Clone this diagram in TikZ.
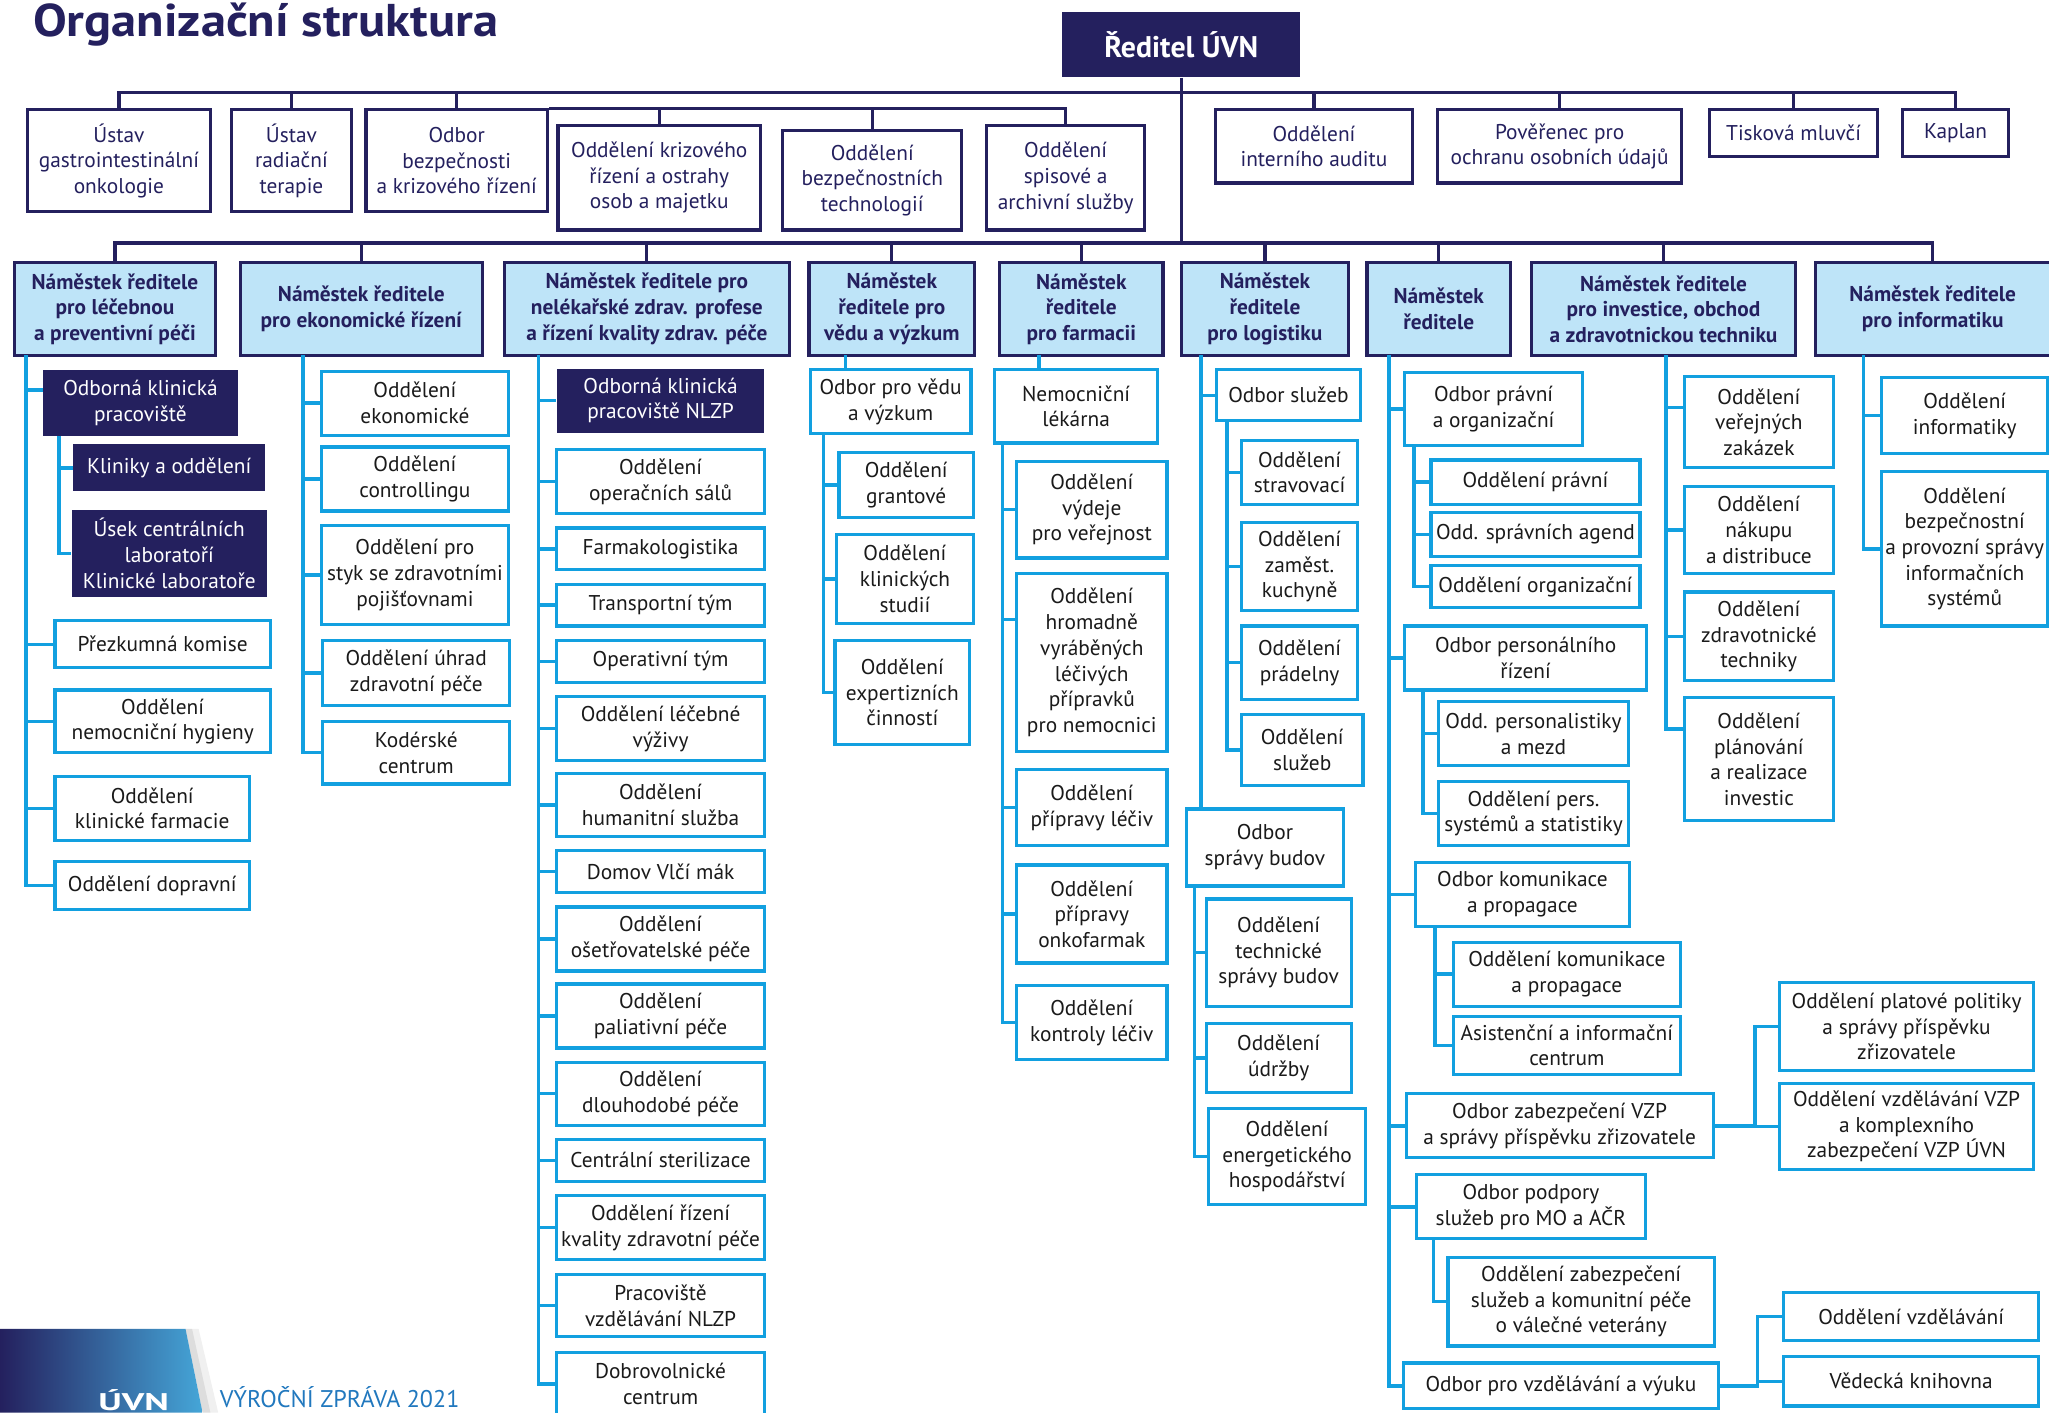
\documentclass[tikz,border=0pt]{standalone}
\usepackage{fontspec}
\setmainfont{PT Sans}
\usepackage{graphicx}
\definecolor{orgnavy}{HTML}{24205E}
\definecolor{orgsky}{HTML}{12A0E0}
\definecolor{orgpale}{HTML}{BEE4F8}
\definecolor{orgink}{HTML}{1A1A1A}
\definecolor{footblue}{HTML}{2178BE}
\definecolor{bandmid}{HTML}{1764AC}
\definecolor{bandlight}{HTML}{45A6D8}
\newcommand{\boxfont}{\fontsize{9.3}{11.2}\selectfont}

\begin{document}
\begin{tikzpicture}[x=0.02cm,y=-0.02cm]
\tikzstyle{every node}=[inner sep=1pt, align=center, font=\boxfont]
\tikzstyle{dirbox}=[fill=orgnavy, text=white, font=\bfseries\fontsize{13}{15}\selectfont]
\tikzstyle{topbox}=[draw=orgnavy, fill=white, line width=1.4pt, text=orgnavy]
\tikzstyle{depbox}=[draw=orgnavy, fill=orgpale, line width=1.4pt, text=orgnavy, font=\bfseries\boxfont]
\tikzstyle{ubox}=[draw=orgsky, fill=white, line width=1.4pt, text=orgink]
\tikzstyle{darkbox}=[fill=orgnavy, text=white]
\tikzstyle{nline}=[draw=orgnavy, line width=1.4pt]
\tikzstyle{cline}=[draw=orgsky, line width=1.5pt]
\clip (0,0) rectangle (1568,1081);
\fill[white] (0,0) rectangle (1568,1081);

% title and director
\draw (25,28) node (title) [anchor=base west, inner sep=0pt, text=orgnavy, font=\bfseries\fontsize{20}{22}\selectfont] {\scalebox{1.1}[1]{Organizační struktura}};
\draw (904,34) node (dir) [dirbox, minimum width=3.64cm, minimum height=1cm] {Ředitel ÚVN};

% first row
\draw (91,123) node (r1) [topbox, minimum width=2.8cm, minimum height=1.56cm] {Ústav\\gastrointestinální\\onkologie};
\draw (223,123) node (r2) [topbox, minimum width=1.84cm, minimum height=1.56cm] {Ústav\\radiační\\terapie};
\draw (349.5,123) node (r3) [topbox, minimum width=2.78cm, minimum height=1.56cm] {Odbor\\bezpečnosti\\a krizového řízení};
\draw (504.5,136) node (r4) [topbox, minimum width=3.1cm, minimum height=1.6cm] {Oddělení krizového\\řízení a ostrahy\\osob a majetku};
\draw (667.5,138) node (r5) [topbox, minimum width=2.74cm, minimum height=1.52cm] {Oddělení\\bezpečnostních\\technologií};
\draw (815.5,136) node (r6) [topbox, minimum width=2.42cm, minimum height=1.6cm] {Oddělení\\spisové a\\archivní služby};
\draw (1005.5,112) node (r7) [topbox, minimum width=3.02cm, minimum height=1.12cm] {Oddělení\\interního auditu};
\draw (1193.5,112) node (r8) [topbox, minimum width=3.74cm, minimum height=1.12cm] {Pověřenec pro\\ochranu osobních údajů};
\draw (1372.5,102) node (r9) [topbox, minimum width=2.58cm, minimum height=0.72cm] {Tisková mluvčí};
\draw (1496.5,102) node (r10) [topbox, minimum width=1.62cm, minimum height=0.72cm] {Kaplan};

% deputies
\draw (88,236.5) node (d1) [depbox, minimum width=3.08cm, minimum height=1.42cm] {Náměstek ředitele\\pro léčebnou\\a preventivní péči};
\draw (276.5,236.5) node (d2) [depbox, minimum width=3.7cm, minimum height=1.42cm] {Náměstek ředitele\\pro ekonomické řízení};
\draw (495,236.5) node (d3) [depbox, minimum width=4.36cm, minimum height=1.42cm] {Náměstek ředitele pro\\nelékařské zdrav. profese\\a řízení kvality zdrav. péče};
\draw (682.5,236.5) node (d4) [depbox, minimum width=2.54cm, minimum height=1.42cm] {Náměstek\\ředitele pro\\vědu a výzkum};
\draw (827.5,236.5) node (d5) [depbox, minimum width=2.5cm, minimum height=1.42cm] {Náměstek\\ředitele\\pro farmacii};
\draw (968,236.5) node (d6) [depbox, minimum width=2.56cm, minimum height=1.42cm] {Náměstek\\ředitele\\pro logistiku};
\draw (1101,236.5) node (d7) [depbox, minimum width=2.2cm, minimum height=1.42cm] {Náměstek\\ředitele};
\draw (1273,236.5) node (d8) [depbox, minimum width=4.04cm, minimum height=1.42cm] {Náměstek ředitele\\pro investice, obchod\\a zdravotnickou techniku};
\draw (1479,236.5) node (d9) [depbox, minimum width=3.6cm, minimum height=1.42cm] {Náměstek ředitele\\pro informatiku};

% column 1
\draw (107.5,308.5) node (c1a) [darkbox, minimum width=2.98cm, minimum height=1.02cm] {Odborná klinická\\pracoviště};
\draw (129.5,358) node (c1b) [darkbox, minimum width=2.94cm, minimum height=0.72cm] {Kliniky a oddělení};
\draw (129.5,423.5) node (c1c) [darkbox, minimum width=2.98cm, minimum height=1.34cm] {Úsek centrálních\\laboratoří\\Klinické laboratoře};
\draw (124.5,493) node (c1d) [ubox, minimum width=3.3cm, minimum height=0.72cm] {Přezkumná komise};
\draw (124.5,552) node (c1e) [ubox, minimum width=3.3cm, minimum height=0.96cm] {Oddělení\\nemocniční hygieny};
\draw (116.5,618.5) node (c1f) [ubox, minimum width=2.98cm, minimum height=0.98cm] {Oddělení\\klinické farmacie};
\draw (116.5,677.5) node (c1g) [ubox, minimum width=2.98cm, minimum height=0.74cm] {Oddělení dopravní};

% column 2
\draw (317.5,308.5) node (c2a) [ubox, minimum width=2.86cm, minimum height=0.98cm] {Oddělení\\ekonomické};
\draw (317.5,366.5) node (c2b) [ubox, minimum width=2.86cm, minimum height=0.98cm] {Oddělení\\controllingu};
\draw (317.5,440) node (c2c) [ubox, minimum width=2.86cm, minimum height=1.52cm] {Oddělení pro\\styk se zdravotními\\pojišťovnami};
\draw (318.5,515) node (c2d) [ubox, minimum width=2.86cm, minimum height=1cm] {Oddělení úhrad\\zdravotní péče};
\draw (318.5,576) node (c2e) [ubox, minimum width=2.86cm, minimum height=0.96cm] {Kodérské\\centrum};

% column 3
\draw (505.5,306.5) node (c3a) [darkbox, minimum width=3.18cm, minimum height=0.98cm] {Odborná klinická\\pracoviště NLZP};
\draw (505.5,368.5) node (c3b) [ubox, minimum width=3.18cm, minimum height=0.98cm] {Oddělení\\operačních sálů};
\draw (505.5,420) node (c3c) [ubox, minimum width=3.18cm, minimum height=0.64cm] {Farmakologistika};
\draw (505.5,463) node (c3d) [ubox, minimum width=3.18cm, minimum height=0.64cm] {Transportní tým};
\draw (505.5,506) node (c3e) [ubox, minimum width=3.18cm, minimum height=0.64cm] {Operativní tým};
\draw (505.5,557.5) node (c3f) [ubox, minimum width=3.18cm, minimum height=0.98cm] {Oddělení léčebné\\výživy};
\draw (505.5,616) node (c3g) [ubox, minimum width=3.18cm, minimum height=0.96cm] {Oddělení\\humanitní služba};
\draw (505.5,667) node (c3h) [ubox, minimum width=3.18cm, minimum height=0.64cm] {Domov Vlčí mák};
\draw (505.5,718.5) node (c3i) [ubox, minimum width=3.18cm, minimum height=0.98cm] {Oddělení\\ošetřovatelské péče};
\draw (505.5,777.5) node (c3j) [ubox, minimum width=3.18cm, minimum height=0.98cm] {Oddělení\\paliativní péče};
\draw (505.5,837) node (c3k) [ubox, minimum width=3.18cm, minimum height=0.96cm] {Oddělení\\dlouhodobé péče};
\draw (505.5,888) node (c3l) [ubox, minimum width=3.18cm, minimum height=0.64cm] {Centrální sterilizace};
\draw (505.5,939.5) node (c3m) [ubox, minimum width=3.18cm, minimum height=0.98cm] {Oddělení řízení\\kvality zdravotní péče};
\draw (505.5,999) node (c3n) [ubox, minimum width=3.18cm, minimum height=0.96cm] {Pracoviště\\vzdělávání NLZP};
\draw (505.5,1059) node (c3o) [ubox, minimum width=3.18cm, minimum height=0.96cm] {Dobrovolnické\\centrum};

% column 4
\draw (681.5,307.5) node (c4a) [ubox, minimum width=2.46cm, minimum height=0.98cm] {Odbor pro vědu\\a výzkum};
\draw (693.5,371) node (c4b) [ubox, minimum width=2.06cm, minimum height=1cm] {Oddělení\\grantové};
\draw (692.5,443) node (c4c) [ubox, minimum width=2.1cm, minimum height=1.36cm] {Oddělení\\klinických\\studií};
\draw (690.5,530) node (c4d) [ubox, minimum width=2.06cm, minimum height=1.6cm] {Oddělení\\expertizních\\činností};

% column 5
\draw (823.5,311) node (c5a) [ubox, minimum width=2.5cm, minimum height=1.12cm] {Nemocniční\\lékárna};
\draw (835.5,390) node (c5b) [ubox, minimum width=2.3cm, minimum height=1.48cm] {Oddělení\\výdeje\\pro veřejnost};
\draw (835.5,507) node (c5c) [ubox, minimum width=2.3cm, minimum height=2.72cm] {Oddělení\\hromadně\\vyráběných\\léčivých\\přípravků\\pro nemocnici};
\draw (835.5,618) node (c5d) [ubox, minimum width=2.3cm, minimum height=1.16cm] {Oddělení\\přípravy léčiv};
\draw (835.5,699.5) node (c5e) [ubox, minimum width=2.3cm, minimum height=1.5cm] {Oddělení\\přípravy\\onkofarmak};
\draw (835.5,782.5) node (c5f) [ubox, minimum width=2.3cm, minimum height=1.14cm] {Oddělení\\kontroly léčiv};

% column 6
\draw (986,302.5) node (c6a) [ubox, minimum width=2.2cm, minimum height=0.78cm] {Odbor služeb};
\draw (994.5,361.5) node (c6b) [ubox, minimum width=1.78cm, minimum height=0.98cm] {Oddělení\\stravovací};
\draw (994.5,433.5) node (c6c) [ubox, minimum width=1.78cm, minimum height=1.34cm] {Oddělení\\zaměst.\\kuchyně};
\draw (994.5,507) node (c6d) [ubox, minimum width=1.78cm, minimum height=1.12cm] {Oddělení\\prádelny};
\draw (996.5,574) node (c6e) [ubox, minimum width=1.86cm, minimum height=1.08cm] {Oddělení\\služeb};
\draw (968,648.5) node (c6f) [ubox, minimum width=2.4cm, minimum height=1.18cm] {Odbor\\správy budov};
\draw (978.5,729) node (c6g) [ubox, minimum width=2.22cm, minimum height=1.64cm] {Oddělení\\technické\\správy budov};
\draw (978.5,809.5) node (c6h) [ubox, minimum width=2.22cm, minimum height=1.06cm] {Oddělení\\údržby};
\draw (985,885) node (c6i) [ubox, minimum width=2.4cm, minimum height=1.48cm] {Oddělení\\energetického\\hospodářství};

% column 7
\draw (1143,313) node (c7a) [ubox, minimum width=2.72cm, minimum height=1.12cm] {Odbor právní\\a organizační};
\draw (1175,369) node (c7b) [ubox, minimum width=3.2cm, minimum height=0.68cm] {Oddělení právní};
\draw (1175,409) node (c7c) [ubox, minimum width=3.2cm, minimum height=0.68cm] {Odd. správních agend};
\draw (1175,449) node (c7d) [ubox, minimum width=3.2cm, minimum height=0.64cm] {Oddělení organizační};
\draw (1167.5,503.5) node (c7e) [ubox, minimum width=3.7cm, minimum height=0.98cm] {Odbor personálního\\řízení};
\draw (1173.5,561.5) node (c7f) [ubox, minimum width=2.9cm, minimum height=0.98cm] {Odd. personalistiky\\a mezd};
\draw (1173.5,622.5) node (c7g) [ubox, minimum width=2.9cm, minimum height=0.98cm] {Oddělení pers.\\systémů a statistiky};
\draw (1165,684.5) node (c7h) [ubox, minimum width=3.28cm, minimum height=0.98cm] {Odbor komunikace\\a propagace};
\draw (1199,745.5) node (c7i) [ubox, minimum width=3.48cm, minimum height=0.98cm] {Oddělení komunikace\\a propagace};
\draw (1199,800) node (c7j) [ubox, minimum width=3.48cm, minimum height=0.88cm] {Asistenční a informační\\centrum};
\draw (1193.5,861.5) node (c7k) [ubox, minimum width=4.7cm, minimum height=0.98cm] {Odbor zabezpečení VZP\\a správy příspěvku zřizovatele};
\draw (1459,785.5) node (c7l) [ubox, minimum width=3.88cm, minimum height=1.34cm] {Oddělení platové politiky\\a správy příspěvku\\zřizovatele};
\draw (1459,862) node (c7m) [ubox, minimum width=3.88cm, minimum height=1.32cm] {Oddělení vzdělávání VZP\\a komplexního\\zabezpečení VZP ÚVN};
\draw (1171.5,923.5) node (c7n) [ubox, minimum width=3.5cm, minimum height=0.98cm] {Odbor podpory\\služeb pro MO a AČR};
\draw (1210,996) node (c7o) [ubox, minimum width=4.08cm, minimum height=1.36cm] {Oddělení zabezpečení\\služeb a komunitní péče\\o válečné veterány};
\draw (1194.5,1060.5) node (c7p) [ubox, minimum width=4.82cm, minimum height=0.7cm] {Odbor pro vzdělávání a výuku};
\draw (1462.5,1007.5) node (c7q) [ubox, minimum width=3.9cm, minimum height=0.74cm] {Oddělení vzdělávání};
\draw (1462.5,1057) node (c7r) [ubox, minimum width=3.9cm, minimum height=0.76cm] {Vědecká knihovna};

% column 8
\draw (1346,323) node (c8a) [ubox, minimum width=2.28cm, minimum height=1.4cm] {Oddělení\\veřejných\\zakázek};
\draw (1346,405.5) node (c8b) [ubox, minimum width=2.28cm, minimum height=1.34cm] {Oddělení\\nákupu\\a distribuce};
\draw (1346,487) node (c8c) [ubox, minimum width=2.28cm, minimum height=1.36cm] {Oddělení\\zdravotnické\\techniky};
\draw (1346,581) node (c8d) [ubox, minimum width=2.28cm, minimum height=1.88cm] {Oddělení\\plánování\\a realizace\\investic};

% column 9
\draw (1503.5,318) node (c9a) [ubox, minimum width=2.54cm, minimum height=1.16cm] {Oddělení\\informatiky};
\draw (1503.5,420) node (c9b) [ubox, minimum width=2.54cm, minimum height=2.36cm] {Oddělení\\bezpečnostní\\a provozní správy\\informačních\\systémů};

% navy connectors
\coordinate (top) at (904,71);
\coordinate (mid) at (904,186);
\draw[nline] (dir.south) -- (mid);
\draw[nline] (top) -| (r1.north);
\draw[nline] (top) -| (r2.north);
\draw[nline] (top) -| (r3.north);
\draw[nline] (top) -| (r7.north);
\draw[nline] (top) -| (r8.north);
\draw[nline] (top) -| (r9.north);
\draw[nline] (top) -| (r10.north);
\draw[nline] (r3.north east) -| (r4.north);
\draw[nline] (r3.north east) -| (r5.north);
\draw[nline] (r3.north east) -| (r6.north);
\draw[nline] (mid) -| (d1.north);
\draw[nline] (mid) -| (d2.north);
\draw[nline] (mid) -| (d3.north);
\draw[nline] (mid) -| (d4.north);
\draw[nline] (mid) -| (d5.north);
\draw[nline] (mid) -| (d6.north);
\draw[nline] (mid) -| (d7.north);
\draw[nline] (mid) -| (d8.north);
\draw[nline] (mid) -| (d9.north);

% column connectors
\coordinate (b1) at (20,272);
\coordinate (s1) at (45,334);
\draw[cline] (b1) |- ([yshift=0.2cm]c1a.west);
\draw[cline] (s1) |- (c1b.west);
\draw[cline] (s1) |- (c1c.west);
\draw[cline] (b1) |- (c1d.west);
\draw[cline] (b1) |- (c1e.west);
\draw[cline] (b1) |- (c1f.west);
\draw[cline] (b1) |- (c1g.west);

\coordinate (b2) at (232,272);
\draw[cline] (b2) |- (c2a.west);
\draw[cline] (b2) |- (c2b.west);
\draw[cline] (b2) |- (c2c.west);
\draw[cline] (b2) |- (c2d.west);
\draw[cline] (b2) |- (c2e.west);

\coordinate (b3) at (412,272);
\draw[cline] (b3) |- (c3a.west);
\draw[cline] (b3) |- (c3b.west);
\draw[cline] (b3) |- (c3c.west);
\draw[cline] (b3) |- (c3d.west);
\draw[cline] (b3) |- (c3e.west);
\draw[cline] (b3) |- (c3f.west);
\draw[cline] (b3) |- (c3g.west);
\draw[cline] (b3) |- (c3h.west);
\draw[cline] (b3) |- (c3i.west);
\draw[cline] (b3) |- (c3j.west);
\draw[cline] (b3) |- (c3k.west);
\draw[cline] (b3) |- (c3l.west);
\draw[cline] (b3) |- (c3m.west);
\draw[cline] (b3) |- (c3n.west);
\draw[cline] (b3) |- (c3o.west);

\coordinate (b4) at (647,272);
\coordinate (s4) at (630,332);
\draw[cline] (b4) -- (b4 |- c4a.north);
\draw[cline] (s4) |- (c4b.west);
\draw[cline] (s4) |- (c4c.west);
\draw[cline] (s4) |- (c4d.west);

\coordinate (b5) at (795,272);
\coordinate (s5) at (767,339);
\draw[cline] (b5) -- (b5 |- c5a.north);
\draw[cline] (s5) |- (c5b.west);
\draw[cline] (s5) |- ([yshift=0.66cm]c5c.west);
\draw[cline] (s5) |- (c5d.west);
\draw[cline] (s5) |- (c5e.west);
\draw[cline] (s5) |- (c5f.west);

\coordinate (b6) at (919,272);
\coordinate (s6) at (939,322);
\coordinate (t6) at (914,678);
\draw[cline] (b6) |- (c6a.west);
\draw[cline] (b6) -- (b6 |- c6f.north);
\draw[cline] (s6) |- (c6b.west);
\draw[cline] (s6) |- (c6c.west);
\draw[cline] (s6) |- (c6d.west);
\draw[cline] (s6) |- (c6e.west);
\draw[cline] (t6) |- (c6g.west);
\draw[cline] (t6) |- (c6h.west);
\draw[cline] (t6) |- (c6i.west);

\coordinate (b7) at (1063,272);
\coordinate (s7a) at (1082,341);
\coordinate (s7e) at (1089,528);
\coordinate (s7h) at (1098,709);
\coordinate (s7n) at (1097,948);
\coordinate (k7) at (1343,0);
\coordinate (p7) at (1345,0);
\draw[cline] (b7) |- (c7a.west);
\draw[cline] (b7) |- (c7e.west);
\draw[cline] (b7) |- (c7h.west);
\draw[cline] (b7) |- (c7k.west);
\draw[cline] (b7) |- (c7n.west);
\draw[cline] (b7) |- (c7p.west);
\draw[cline] (s7a) |- (c7b.west);
\draw[cline] (s7a) |- (c7c.west);
\draw[cline] (s7a) |- (c7d.west);
\draw[cline] (s7e) |- (c7f.west);
\draw[cline] (s7e) |- (c7g.west);
\draw[cline] (s7h) |- (c7i.west);
\draw[cline] (s7h) |- (c7j.west);
\draw[cline] (s7n) |- (c7o.west);
\draw[cline] (c7k.east) -- (c7k.east -| k7) |- (c7l.west);
\draw[cline] (c7k.east -| k7) |- (c7m.west);
\draw[cline] (c7p.east) -- (c7p.east -| p7) |- (c7q.west);
\draw[cline] (c7p.east -| p7) |- (c7r.west);

\coordinate (b8) at (1275,272);
\draw[cline] (b8) |- ([yshift=0.22cm]c8a.west);
\draw[cline] (b8) |- (c8b.west);
\draw[cline] (b8) |- (c8c.west);
\draw[cline] (b8) |- ([yshift=0.46cm]c8d.west);

\coordinate (b9) at (1426,272);
\draw[cline] (b9) |- (c9a.west);
\draw[cline] (b9) |- (c9b.west);

% footer
\fill[black, opacity=0.06] (142,1017) -- (152,1017) -- (167,1081) -- (155,1081) -- cycle;
\fill[black, opacity=0.08] (142,1017) -- (147,1017) -- (161,1081) -- (155,1081) -- cycle;
\shade[left color=orgnavy, middle color=bandmid, right color=bandlight] (0,1017) -- (142,1017) -- (155,1081) -- (0,1081) -- cycle;
\draw (75,1079) node (logo) [anchor=base west, inner sep=0pt, text=white, font=\bfseries\fontsize{10.5}{12}\selectfont] {\scalebox{1.55}[1]{ÚVN}};
\draw (168,1077) node (report) [anchor=base west, inner sep=0pt, text=footblue, font=\fontsize{10.5}{12}\selectfont] {VÝROČNÍ ZPRÁVA 2021};
\end{tikzpicture}
\end{document}
